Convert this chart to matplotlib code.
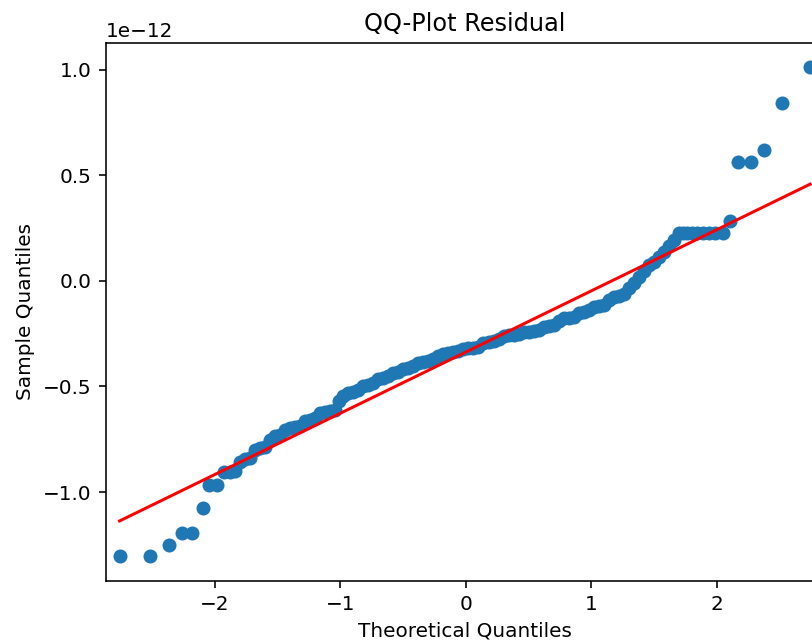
import numpy as np
import matplotlib
matplotlib.use("Agg")
import matplotlib.pyplot as plt

# theoretical quantiles (x) and sample quantiles (y, in units of 1e-12)
theo_q = [
    -2.758, -2.517, -2.368, -2.264, -2.177, -2.096, -2.048, -1.984,
    -1.93, -1.88, -1.84, -1.80, -1.76, -1.72, -1.68, -1.64, -1.60, -1.56,
    -1.52, -1.48, -1.44, -1.40, -1.36, -1.32, -1.28, -1.24, -1.20, -1.16,
    -1.12, -1.08, -1.04, -1.01, -0.98, -0.94, -0.90, -0.86, -0.82, -0.78,
    -0.74, -0.70, -0.66, -0.62, -0.58, -0.54, -0.50, -0.46, -0.42, -0.38,
    -0.34, -0.30, -0.26, -0.22, -0.18, -0.14, -0.10, -0.06, -0.02, 0.02,
    0.06, 0.10, 0.14, 0.18, 0.22, 0.26, 0.30, 0.34, 0.38, 0.42, 0.46,
    0.50, 0.54, 0.58, 0.62, 0.66, 0.70, 0.74, 0.78, 0.82, 0.86, 0.90,
    0.94, 0.98, 1.02, 1.06, 1.10, 1.14, 1.18, 1.22, 1.26, 1.30, 1.34,
    1.38, 1.42, 1.46, 1.50, 1.54, 1.58, 1.62, 1.66,
    1.693, 1.726, 1.762, 1.800, 1.841, 1.885, 1.933, 1.987, 2.048,
    2.103, 2.170, 2.270, 2.372, 2.521, 2.741,
]
sample_q = [
    -1.304, -1.304, -1.250, -1.195, -1.195, -1.076, -0.968, -0.968,
    -0.905, -0.905, -0.900, -0.860, -0.845, -0.840, -0.800, -0.790, -0.785, -0.755,
    -0.735, -0.730, -0.705, -0.695, -0.690, -0.685, -0.665, -0.660, -0.650, -0.625,
    -0.620, -0.615, -0.610, -0.570, -0.545, -0.530, -0.525, -0.515, -0.497, -0.493,
    -0.485, -0.465, -0.460, -0.450, -0.438, -0.432, -0.418, -0.413, -0.405, -0.390,
    -0.383, -0.378, -0.370, -0.355, -0.345, -0.342, -0.338, -0.330, -0.322, -0.320,
    -0.318, -0.312, -0.295, -0.288, -0.285, -0.275, -0.260, -0.256, -0.254, -0.250, -0.243,
    -0.240, -0.238, -0.232, -0.218, -0.215, -0.210, -0.190, -0.178, -0.175, -0.170, -0.152,
    -0.148, -0.140, -0.123, -0.120, -0.115, -0.090, -0.078, -0.073, -0.060, -0.035, -0.010,
    0.020, 0.045, 0.075, 0.090, 0.115, 0.135, 0.165, 0.195,
    0.226, 0.226, 0.226, 0.226, 0.226, 0.226, 0.226, 0.226, 0.226,
    0.285, 0.563, 0.563, 0.618, 0.840, 1.012,
]

# reference line (red), read at the two end quantiles
line_x = [-2.758, 2.741]
line_y = [-1.137, 0.458]

x = np.array(theo_q)
y = np.array(sample_q) * 1e-12

fig = plt.figure(figsize=(812 / 144, 643 / 144), dpi=144)
ax = fig.add_axes([0.1302, 0.0969, 0.8845, 0.8367])

ax.plot(x, y, "o", color="C0", markersize=6)
ax.set_xmargin(0.02)
ax.plot(line_x, np.array(line_y) * 1e-12, "r")

ax.set_title("QQ-Plot Residual")
ax.set_xlabel("Theoretical Quantiles")
ax.set_ylabel("Sample Quantiles")

fig.savefig("out.png", dpi=144)
